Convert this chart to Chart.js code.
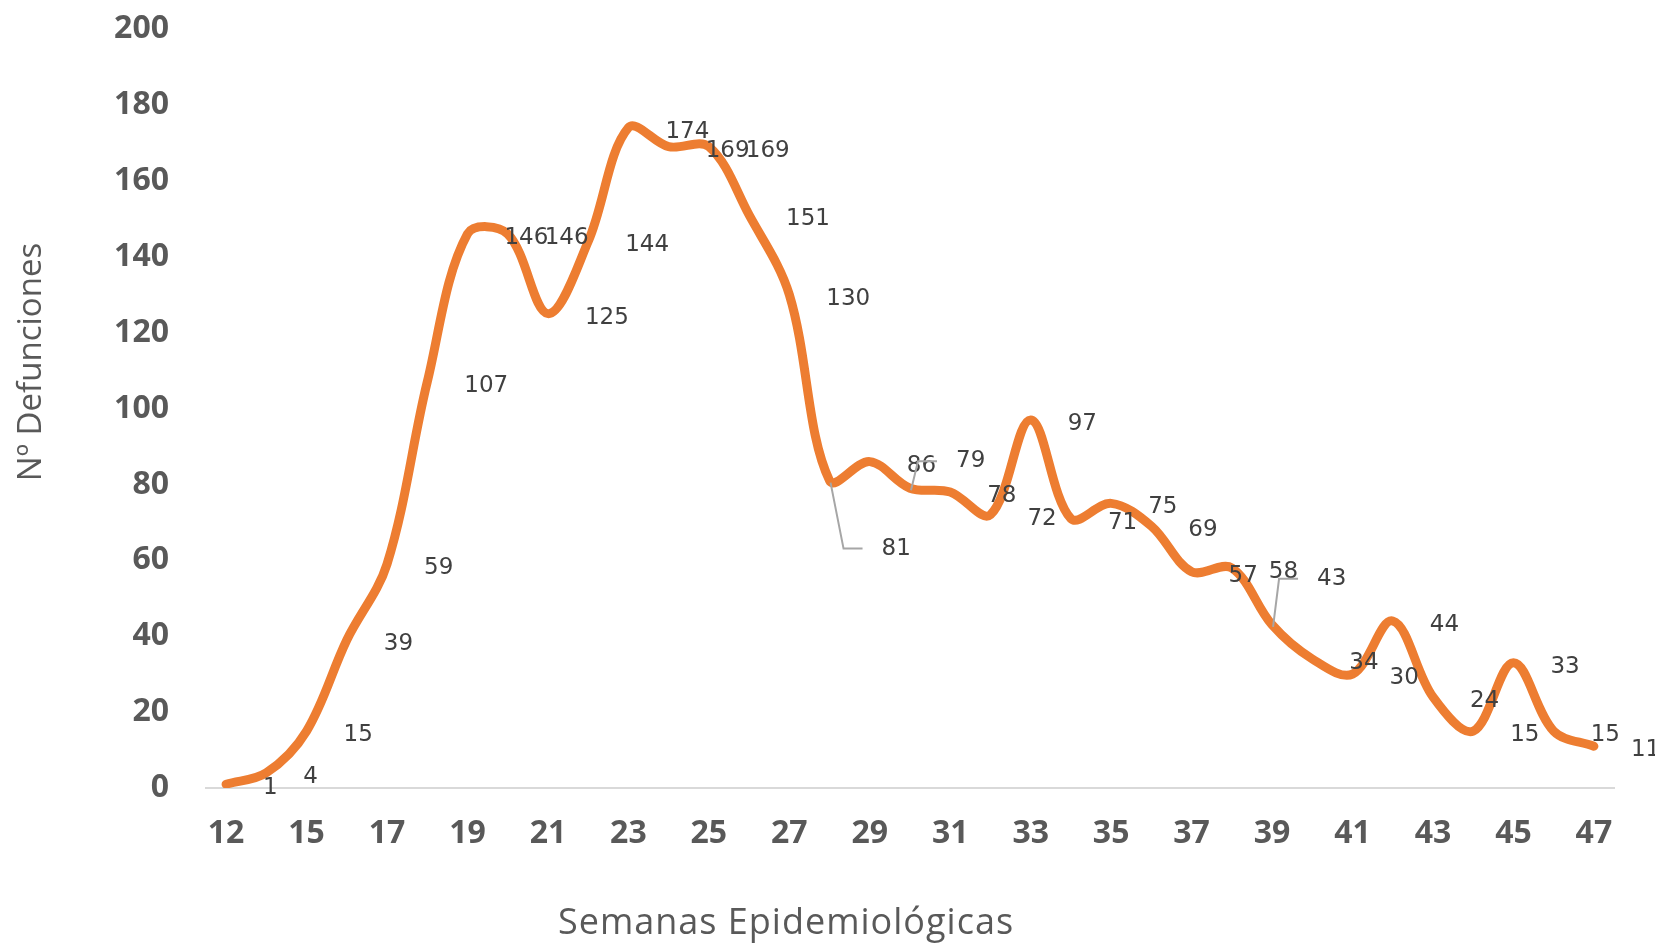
<!DOCTYPE html>
<html lang="es">
<head>
<meta charset="utf-8">
<title>Defunciones por semana epidemiológica</title>
<script src="https://cdn.jsdelivr.net/npm/chart.js@4.4.1/dist/chart.umd.min.js"></script>
<style>
    html, body { margin: 0; padding: 0; background: #ffffff; }
    #wrap { width: 1655px; height: 943px; }
</style>
</head>
<body>
<div id="wrap"><canvas id="grafico" width="1655" height="943"></canvas></div>
<script>
// semanas epidemiológicas (la 13 no aparece)
const semanas = ['12', '14', '15', '16', '17', '18', '19', '20', '21', '22', '23', '24',
    '25', '26', '27', '28', '29', '30', '31', '32', '33', '34', '35', '36', '37', '38',
    '39', '40', '41', '42', '43', '44', '45', '46', '47'];

const defunciones = [1, 4, 15, 39, 59, 107, 146, 146, 125, 144, 174, 169,
    169, 151, 130, 81, 86, 79, 78, 72, 97, 71, 75, 69, 57, 58,
    43, 34, 30, 44, 24, 15, 33, 15, 11];

const ticksY = [0, 20, 40, 60, 80, 100, 120, 140, 160, 180, 200];

const tituloX = 'Semanas Epidemiológicas';
const tituloY = 'Nº Defunciones';

// etiquetas que Excel movió y unió con línea guía (índice -> desplazamiento extra)
const etiquetasMovidas = { 15: [15, 64], 17: [9, -31], 26: [8, -50] };

const etiquetasPlugin = {
    id: 'etiquetas',
    afterDatasetsDraw(chart) {
        const ctx = chart.ctx;
        const meta = chart.getDatasetMeta(0);
        ctx.save();
        ctx.font = '23px "DejaVu Sans"';
        ctx.textAlign = 'left';
        ctx.textBaseline = 'middle';
        meta.data.forEach(function (pt, i) {
            let x = pt.x + 37;
            let y = pt.y + 4;
            const mov = etiquetasMovidas[i];
            if (mov) {
                x += mov[0];
                y += mov[1];
                ctx.strokeStyle = '#a6a6a6';
                ctx.lineWidth = 2;
                ctx.beginPath();
                ctx.moveTo(pt.x + 1, pt.y + 2);
                ctx.lineTo(x - 38, y);
                ctx.lineTo(x - 19, y);
                ctx.stroke();
            }
            ctx.fillStyle = '#404040';
            ctx.fillText(String(defunciones[i]), x, y);
        });
        ctx.restore();
    },
    afterDraw(chart) {
        const ctx = chart.ctx;
        ctx.save();
        ctx.fillStyle = '#595959';
        ctx.textAlign = 'center';
        ctx.textBaseline = 'middle';
        ctx.font = '36px "Open Sans"';
        ctx.letterSpacing = '1px';
        ctx.fillText(tituloX, 786, 924);
        ctx.translate(32, 362);
        ctx.rotate(-Math.PI / 2);
        ctx.font = '33px "Open Sans"';
        ctx.letterSpacing = '0px';
        ctx.fillText(tituloY, 0, 0);
        ctx.restore();
    }
};

const ctx = document.getElementById('grafico').getContext('2d');

new Chart(ctx, {
    type: 'line',
    data: {
        labels: semanas,
        datasets: [{
            label: 'Nº Defunciones',
            data: defunciones,
            borderColor: '#ed7d31',
            borderWidth: 9,
            borderCapStyle: 'round',
            borderJoinStyle: 'round',
            tension: 0.35,
            pointRadius: 0,
            fill: false
        }]
    },
    options: {
        responsive: false,
        animation: false,
        devicePixelRatio: 1,
        layout: {
            padding: { left: 0, right: 41, top: 29, bottom: 0 }
        },
        scales: {
            x: {
                offset: true,
                grid: { display: false, drawTicks: false },
                border: { display: true, color: '#d9d9d9', width: 2 },
                ticks: {
                    autoSkip: false,
                    maxRotation: 0,
                    padding: 27,
                    color: '#595959',
                    font: { family: 'Open Sans', size: 32, weight: 'bold' },
                    callback: function (value, index) {
                        return index % 2 === 0 ? semanas[index] : '';
                    }
                },
                afterFit: function (scale) { scale.height = 155; }
            },
            y: {
                min: 0,
                max: 200,
                afterBuildTicks: function (scale) {
                    scale.ticks = ticksY.map(function (v) { return { value: v }; });
                },
                // marcas invisibles: solo sirven para separar las etiquetas del eje
                grid: { display: true, drawOnChartArea: false, drawTicks: true, tickLength: 37, color: 'rgba(0,0,0,0)' },
                border: { display: false },
                ticks: {
                    padding: 0,
                    color: '#595959',
                    font: { family: 'Open Sans', size: 32, weight: 'bold' }
                },
                afterFit: function (scale) { scale.width = 206; }
            }
        },
        plugins: {
            legend: { display: false },
            tooltip: { enabled: false }
        }
    },
    plugins: [etiquetasPlugin]
});
</script>
</body>
</html>
